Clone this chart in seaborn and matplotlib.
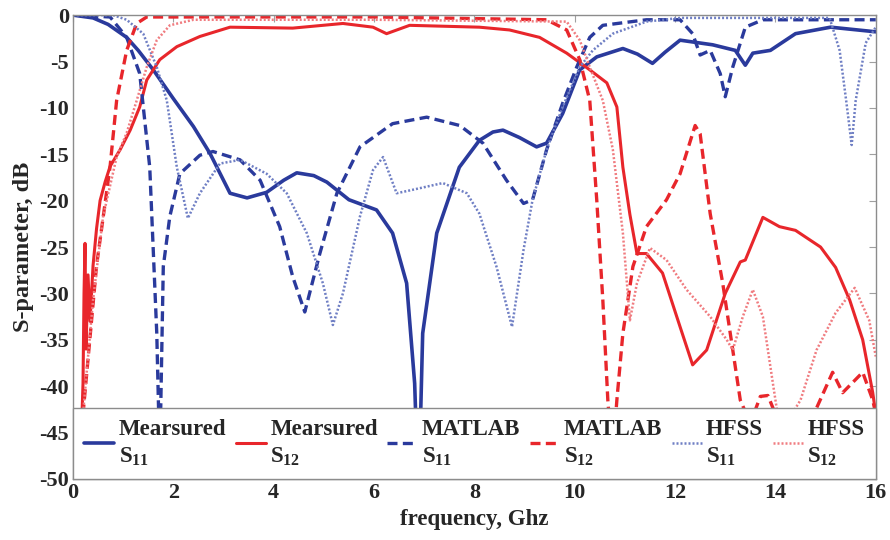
import numpy as np
import pandas as pd
import matplotlib
matplotlib.use('Agg')
import matplotlib.pyplot as plt
import seaborn as sns

# --- Dados (frequência em GHz, S em dB) ---
meas_s11_f = [0.0, 0.4, 0.7, 1.07, 1.3, 1.6, 2.0, 2.4, 2.73, 3.13, 3.47, 3.86, 4.2, 4.46, 4.8,
              5.06, 5.5, 6.05, 6.37, 6.65, 6.81, 6.86, 6.92, 6.97, 7.25, 7.7, 8.1, 8.37, 8.57,
              8.9, 9.24, 9.44, 9.76, 10.1, 10.44, 10.96, 11.25, 11.55, 11.8, 12.1, 12.75, 13.2,
              13.4, 13.55, 13.9, 14.4, 15.1, 16.0]
meas_s11_db = [0.0, -0.3, -1.0, -2.4, -3.8, -5.9, -9.0, -12.0, -14.9, -19.2, -19.7, -19.1, -17.8,
               -17.0, -17.3, -18.0, -19.9, -21.0, -23.5, -28.9, -39.7, -48.0, -45.0, -34.3, -23.5,
               -16.4, -13.5, -12.6, -12.4, -13.2, -14.2, -13.8, -10.6, -5.9, -4.5, -3.6, -4.2,
               -5.2, -4.0, -2.7, -3.2, -3.8, -5.4, -4.1, -3.8, -2.0, -1.3, -1.8]

meas_s12_f = [0.15, 0.2, 0.22, 0.24, 0.26, 0.3, 0.34, 0.4, 0.47, 0.54, 0.64, 0.74, 0.94, 1.14,
              1.33, 1.47, 1.73, 2.07, 2.53, 3.13, 4.38, 5.38, 5.98, 6.25, 6.71, 8.1, 8.7, 9.3,
              9.84, 10.3, 10.64, 10.84, 10.96, 11.1, 11.24, 11.43, 11.75, 12.1, 12.35, 12.63,
              13.0, 13.3, 13.4, 13.75, 14.08, 14.4, 14.9, 15.2, 15.48, 15.74, 15.94, 16.0]
meas_s12_db = [-48.0, -39.7, -30.0, -24.6, -36.0, -28.0, -33.0, -27.0, -23.0, -20.0, -18.0, -16.3,
               -14.5, -12.4, -9.9, -7.0, -4.8, -3.4, -2.3, -1.3, -1.4, -0.9, -1.3, -2.0, -1.1,
               -1.3, -1.6, -2.4, -4.1, -5.9, -7.3, -9.9, -16.4, -21.5, -25.7, -25.7, -27.8,
               -33.6, -37.7, -36.1, -30.0, -26.6, -26.4, -21.8, -22.8, -23.2, -25.0, -27.2,
               -30.7, -35.0, -40.7, -43.0]

matlab_s11_f = [0.0, 0.74, 1.07, 1.33, 1.53, 1.67, 1.73, 1.8, 1.93, 2.13, 2.53, 2.79, 3.33, 3.73,
                4.12, 4.38, 4.62, 4.92, 5.26, 5.72, 6.37, 7.05, 7.71, 8.17, 8.64, 8.98, 9.16,
                9.44, 9.76, 10.04, 10.3, 10.56, 11.43, 12.1, 12.35, 12.5, 12.7, 12.9, 13.0,
                13.15, 13.4, 13.75, 16.0]
matlab_s11_db = [0.0, -0.2, -2.4, -6.3, -16.4, -34.3, -48.0, -27.1, -21.7, -17.1, -15.1, -14.7,
                 -15.6, -17.8, -22.8, -28.2, -32.0, -25.7, -19.2, -14.2, -11.7, -11.0, -11.9,
                 -13.8, -17.8, -20.3, -19.9, -14.5, -9.5, -5.6, -2.4, -1.1, -0.5, -0.5, -2.0,
                 -4.3, -3.8, -6.3, -8.8, -5.6, -1.3, -0.5, -0.5]

matlab_s12_f = [0.15, 0.2, 0.47, 0.74, 0.87, 1.07, 1.27, 1.47, 3.0, 6.0, 9.44, 9.84, 10.1, 10.3,
                10.44, 10.56, 10.66, 10.75, 10.84, 10.96, 11.16, 11.43, 11.83, 12.1, 12.4, 12.5,
                12.7, 12.95, 13.2, 13.3, 13.5, 13.7, 13.85, 14.0, 14.6, 15.14, 15.34, 15.74,
                15.94, 16.0]
matlab_s12_db = [-48.0, -43.0, -27.0, -16.3, -9.2, -3.8, -0.9, -0.2, -0.2, -0.2, -0.5, -1.6,
                 -4.8, -9.2, -20.0, -30.7, -41.5, -48.0, -41.5, -34.3, -27.1, -22.8, -19.9,
                 -17.1, -11.9, -12.8, -21.4, -28.9, -37.9, -41.5, -44.0, -41.1, -41.0, -43.0,
                 -45.0, -38.5, -40.7, -38.5, -41.5, -43.0]

hfss_s11_f = [0.0, 0.8, 1.07, 1.4, 1.67, 1.87, 2.07, 2.29, 2.53, 2.93, 3.33, 3.86, 4.26, 4.66,
              4.98, 5.18, 5.38, 5.72, 5.98, 6.18, 6.45, 6.71, 7.37, 7.85, 8.1, 8.44, 8.75, 8.98,
              9.16, 9.44, 9.76, 10.1, 10.36, 10.76, 11.43, 12.1, 15.08, 15.28, 15.41, 15.52,
              15.6, 15.8, 16.0]
hfss_s11_db = [0.0, 0.0, -0.5, -2.0, -5.6, -9.2, -16.4, -21.9, -19.2, -16.0, -15.6, -17.1, -19.2,
               -23.5, -28.9, -33.4, -30.0, -21.7, -16.7, -15.3, -19.2, -18.9, -18.1, -19.2, -21.4,
               -27.1, -33.6, -25.3, -19.9, -14.5, -9.9, -5.6, -3.8, -2.0, -0.7, -0.3, -0.3, -3.8,
               -9.2, -14.0, -9.2, -3.0, -1.3]

hfss_s12_f = [0.15, 0.2, 0.4, 0.6, 0.87, 1.07, 1.27, 1.47, 1.67, 1.93, 2.4, 6.0, 9.84, 10.1,
              10.3, 10.56, 10.76, 10.96, 11.1, 11.24, 11.5, 11.83, 12.23, 12.7, 13.03, 13.15,
              13.35, 13.55, 13.75, 13.95, 14.1, 14.5, 14.82, 15.2, 15.58, 15.87, 16.0]
hfss_s12_db = [-48.0, -43.0, -30.7, -21.7, -15.3, -12.7, -9.2, -5.6, -2.7, -1.1, -0.5, -0.5,
               -0.7, -2.7, -5.6, -9.2, -14.5, -23.5, -32.9, -28.9, -25.1, -26.4, -29.6, -32.5,
               -35.0, -36.1, -32.5, -29.6, -32.5, -39.7, -45.0, -41.5, -36.1, -32.1, -29.4,
               -32.9, -36.8]

x_ticks = [0, 2, 4, 6, 8, 10, 12, 14, 16]
y_ticks = [0, -5, -10, -15, -20, -25, -30, -35, -40, -45, -50]

AZUL = '#2a3a9c'
VERMELHO = '#e8262b'
AZUL_CLARO = '#6f7fc4'
VERMELHO_CLARO = '#f07c80'

series = [
    ('Mearsured\nS$_{11}$', meas_s11_f, meas_s11_db, AZUL, '-', 2.6),
    ('Mearsured\nS$_{12}$', meas_s12_f, meas_s12_db, VERMELHO, '-', 2.2),
    ('MATLAB\nS$_{11}$', matlab_s11_f, matlab_s11_db, AZUL, (0, (3, 1.6)), 2.4),
    ('MATLAB\nS$_{12}$', matlab_s12_f, matlab_s12_db, VERMELHO, (0, (3, 1.6)), 2.4),
    ('HFSS\nS$_{11}$', hfss_s11_f, hfss_s11_db, AZUL_CLARO, (0, (0.8, 0.8)), 1.8),
    ('HFSS\nS$_{12}$', hfss_s12_f, hfss_s12_db, VERMELHO_CLARO, (0, (0.8, 0.8)), 1.8),
]

sns.set_style('white')
plt.rcParams['font.family'] = ['Liberation Serif', 'DejaVu Serif']
plt.rcParams['font.weight'] = 'bold'
plt.rcParams['axes.unicode_minus'] = False
plt.rcParams['mathtext.fontset'] = 'custom'
plt.rcParams['mathtext.rm'] = 'Liberation Serif:bold'
plt.rcParams['mathtext.it'] = 'Liberation Serif:bold'
plt.rcParams['mathtext.bf'] = 'Liberation Serif:bold'

fig = plt.figure(figsize=(8.9, 5.4), dpi=100)
ax = fig.add_axes([0.082, 0.113, 0.902, 0.859])

for nome, f, s, cor, estilo, lw in series:
    df = pd.DataFrame({'f': f, 's': s})
    sns.lineplot(data=df, x='f', y='s', ax=ax, color=cor, linestyle=estilo,
                 linewidth=lw, sort=False, estimator=None, label=nome)

ax.set_xlim(0, 16)
ax.set_ylim(-50, 0)
ax.set_xticks(x_ticks)
ax.set_yticks(y_ticks)
ax.tick_params(direction='in', length=5, color='#a0a0a0', labelsize=16,
               top=True, right=True, pad=3)
for lab in ax.get_xticklabels() + ax.get_yticklabels():
    lab.set_fontweight('bold')
for sp in ax.spines.values():
    sp.set_color('#8c8c8c')
    sp.set_linewidth(1.0)

ax.set_xlabel('frequency, Ghz', fontsize=16.5, fontweight='bold', labelpad=4)
ax.set_ylabel('S-parameter, dB', fontsize=17.5, fontweight='bold', labelpad=4)

leg = ax.legend(loc='lower left', bbox_to_anchor=(0, 0, 1, 0.16), mode='expand', ncol=6,
                borderaxespad=0, frameon=True, fancybox=False, handlelength=1.3,
                handletextpad=0.2, columnspacing=0.8, borderpad=0.5,
                prop={'family': 'Liberation Serif', 'weight': 'bold', 'size': 16.5})
leg.get_frame().set_edgecolor('#8c8c8c')
leg.get_frame().set_linewidth(1.0)
leg.get_frame().set_alpha(1.0)
for t in leg.get_texts():
    t.set_linespacing(1.3)

plt.savefig('out.png', dpi=100)
plt.close()
